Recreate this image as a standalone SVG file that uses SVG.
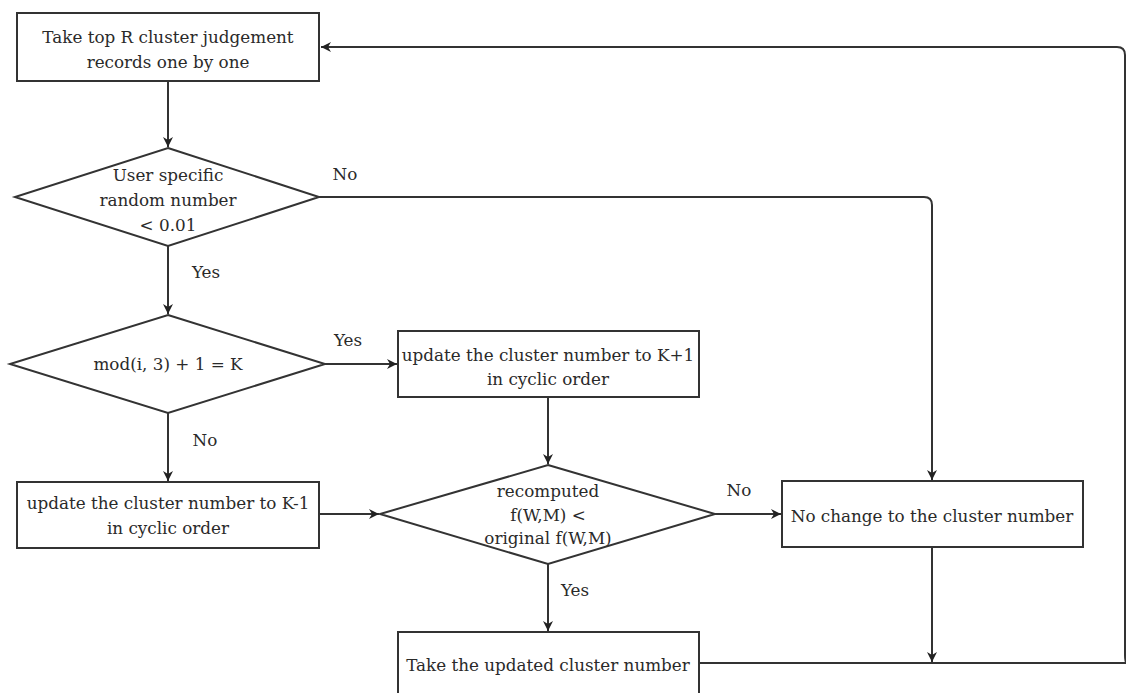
<svg xmlns="http://www.w3.org/2000/svg" width="1126" height="693" viewBox="0 0 1126 693">
<defs>
<style>
.n{fill:#fff;stroke:#333;stroke-width:2}
.t{font-family:"DejaVu Serif","Liberation Serif",serif;font-size:16.8px;fill:#2a2a2a;text-anchor:middle;dominant-baseline:central}
.c{fill:none;stroke:#333;stroke-width:2}
</style>
<marker id="a" markerWidth="12" markerHeight="12" viewBox="0 0 12 12" refX="11" refY="6" orient="auto" markerUnits="userSpaceOnUse">
<path d="M1,1 L11,6 L1,11 L4,6 Z" fill="#222"/>
</marker>
</defs>
<rect width="1126" height="693" fill="#fff"/>
<g id="connectors">
<path class="c" d="M1127,663 Q1125,663 1125,655 L1125,55 Q1125,47 1117,47 L321,47" marker-end="url(#a)"/>
<path class="c" d="M168,81 L168,147" marker-end="url(#a)"/>
<path class="c" d="M319,197 L924,197 Q932,197 932,205 L932,480" marker-end="url(#a)"/>
<path class="c" d="M168,246 L168,314" marker-end="url(#a)"/>
<path class="c" d="M325,364 L397,364" marker-end="url(#a)"/>
<path class="c" d="M168,413 L168,481" marker-end="url(#a)"/>
<path class="c" d="M548,397 L548,464" marker-end="url(#a)"/>
<path class="c" d="M319,514 L379,514" marker-end="url(#a)"/>
<path class="c" d="M715,514 L781,514" marker-end="url(#a)"/>
<path class="c" d="M548,564 L548,631" marker-end="url(#a)"/>
<path class="c" d="M932,547 L932,662" marker-end="url(#a)"/>
<path class="c" d="M699,663 L1126,663"/>
<text class="t" x="345" y="174">No</text>
<text class="t" x="206" y="272">Yes</text>
<text class="t" x="348" y="340">Yes</text>
<text class="t" x="205" y="440">No</text>
<text class="t" x="739" y="490">No</text>
<text class="t" x="575" y="590">Yes</text>
</g>
<g id="n1">
<rect class="n" x="17" y="13" width="302" height="68"/>
<text class="t" x="168" y="37">Take top R cluster judgement</text>
<text class="t" x="168" y="62">records one by one</text>
</g>
<g id="n2">
<polygon class="n" points="168,148 319,197 168,246 15,197"/>
<text class="t" x="168" y="175">User specific</text>
<text class="t" x="168" y="200">random number</text>
<text class="t" x="168" y="225">&lt; 0.01</text>
</g>
<g id="n3">
<polygon class="n" points="168,315 325,364 168,413 10,364"/>
<text class="t" x="168" y="364">mod(i, 3) + 1 = K</text>
</g>
<g id="n4">
<rect class="n" x="398" y="331" width="301" height="66"/>
<text class="t" x="548" y="355">update the cluster number to K+1</text>
<text class="t" x="548" y="379">in cyclic order</text>
</g>
<g id="n5">
<rect class="n" x="17" y="482" width="302" height="66"/>
<text class="t" x="168" y="503">update the cluster number to K-1</text>
<text class="t" x="168" y="528">in cyclic order</text>
</g>
<g id="n6">
<polygon class="n" points="548,465 715,514 548,564 380,514"/>
<text class="t" x="548" y="491">recomputed</text>
<text class="t" x="548" y="515">f(W,M) &lt;</text>
<text class="t" x="548" y="538">original f(W,M)</text>
</g>
<g id="n7">
<rect class="n" x="782" y="481" width="301" height="66"/>
<text class="t" x="932" y="516">No change to the cluster number</text>
</g>
<g id="n8">
<rect class="n" x="398" y="632" width="301" height="70"/>
<text class="t" x="548" y="665">Take the updated cluster number</text>
</g>
</svg>
